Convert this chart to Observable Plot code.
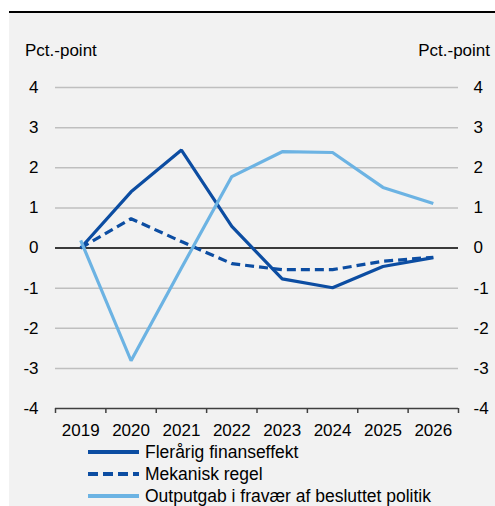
<!DOCTYPE html>
<html>
<head>
<meta charset="utf-8">
<script src="https://cdn.jsdelivr.net/npm/d3@7"></script>
<script src="https://cdn.jsdelivr.net/npm/@observablehq/plot@0.6"></script>
<style>
  html, body { margin: 0; padding: 0; background: #fff; }
  body { width: 495px; height: 506px; position: relative; overflow: hidden; font-family: "Liberation Sans", Arial, sans-serif; }
  #panel { position: absolute; left: 9px; top: 11px; width: 486px; height: 495px; background: #f2f2f2; border-top: 2px solid #000; }
  #chart { position: absolute; left: 0; top: 0; }
  .unit { position: absolute; font-size: 17px; line-height: 17px; color: #000; white-space: nowrap; }
  .leg { position: absolute; left: 78px; font-size: 17.5px; line-height: 17px; color: #000; white-space: nowrap; display: flex; align-items: center; }
  .leg svg { margin-right: 4px; }
</style>
</head>
<body>
<div id="panel">
  <div id="chart"></div>
  <div class="unit" style="left:16px; top:29px;">Pct.-point</div>
  <div class="unit" style="right:5px; top:29px;">Pct.-point</div>
  <div id="legend"></div>
</div>
<script>
const years = [2019, 2020, 2021, 2022, 2023, 2024, 2025, 2026];
const flerårig = [0.0, 1.40, 2.44, 0.54, -0.77, -0.99, -0.46, -0.24];
const mekanisk = [0.0, 0.73, 0.16, -0.39, -0.54, -0.54, -0.33, -0.23];
const outputgab = [0.19, -2.81, -0.50, 1.78, 2.40, 2.38, 1.51, 1.11];
const yTicks = [-4, -3, -2, -1, 0, 1, 2, 3, 4];
const seriesNames = ["Flerårig finanseffekt", "Mekanisk regel", "Outputgab i fravær af besluttet politik"];
const colors = ["#0c4da2", "#0c4da2", "#6cb3e3"];
const dashes = [null, "9,5", null];

const seriesValues = [flerårig, mekanisk, outputgab];
const rows = seriesNames.map((name, i) => years.map((yr, j) => ({year: yr, value: seriesValues[i][j], series: name})));
const bounds = years.map(y => y - 0.5).concat([years[years.length - 1] + 0.5]);

const plot = Plot.plot({
  width: 486,
  height: 426,
  marginLeft: 46,
  marginRight: 37,
  marginTop: 74,
  marginBottom: 31,
  style: {background: "transparent", fontFamily: "Liberation Sans, Arial, sans-serif", fontSize: "17px", color: "#000", overflow: "visible"},
  x: {domain: [bounds[0], bounds[bounds.length - 1]]},
  y: {domain: [-4, 4]},
  marks: [
    Plot.ruleY(yTicks.filter(d => d !== 0 && d !== -4), {stroke: "#bfbfbf", strokeWidth: 1.5}),
    Plot.axisY({ticks: yTicks, anchor: "left", tickSize: 0, tickPadding: 17, tickFormat: d => String(d), label: null, fill: "#000"}),
    Plot.axisY({ticks: yTicks, anchor: "right", tickSize: 0, tickPadding: 15, tickFormat: d => String(d), label: null, fill: "#000"}),
    Plot.axisX({ticks: bounds, tickSize: 5, tickFormat: () => "", label: null, stroke: "#404040", strokeWidth: 1.5}),
    Plot.axisX({ticks: years, tickSize: 0, tickPadding: 15, tickFormat: d => String(d), label: null, fill: "#000"}),
    Plot.ruleY([-4], {stroke: "#404040", strokeWidth: 1.5}),
    Plot.ruleY([0], {stroke: "#3a3a3a", strokeWidth: 2}),
    ...rows.map((r, i) => Plot.line(r, {x: "year", y: "value", stroke: colors[i], strokeWidth: 3.2, strokeDasharray: dashes[i], strokeLinejoin: "miter", strokeLinecap: "butt"}))
  ]
});
document.getElementById("chart").appendChild(plot);

// legend
const legend = document.getElementById("legend");
const legTops = [428, 450, 472];
seriesNames.forEach((name, i) => {
  const row = document.createElement("div");
  row.className = "leg";
  row.style.top = legTops[i] + "px";
  row.style.height = "22px";
  row.innerHTML = `<svg width="54" height="22"><line x1="1" x2="52" y1="11" y2="11" stroke="${colors[i]}" stroke-width="4" ${dashes[i] ? 'stroke-dasharray="10,5"' : ''}/></svg><span>${name}</span>`;
  legend.appendChild(row);
});
</script>
</body>
</html>
